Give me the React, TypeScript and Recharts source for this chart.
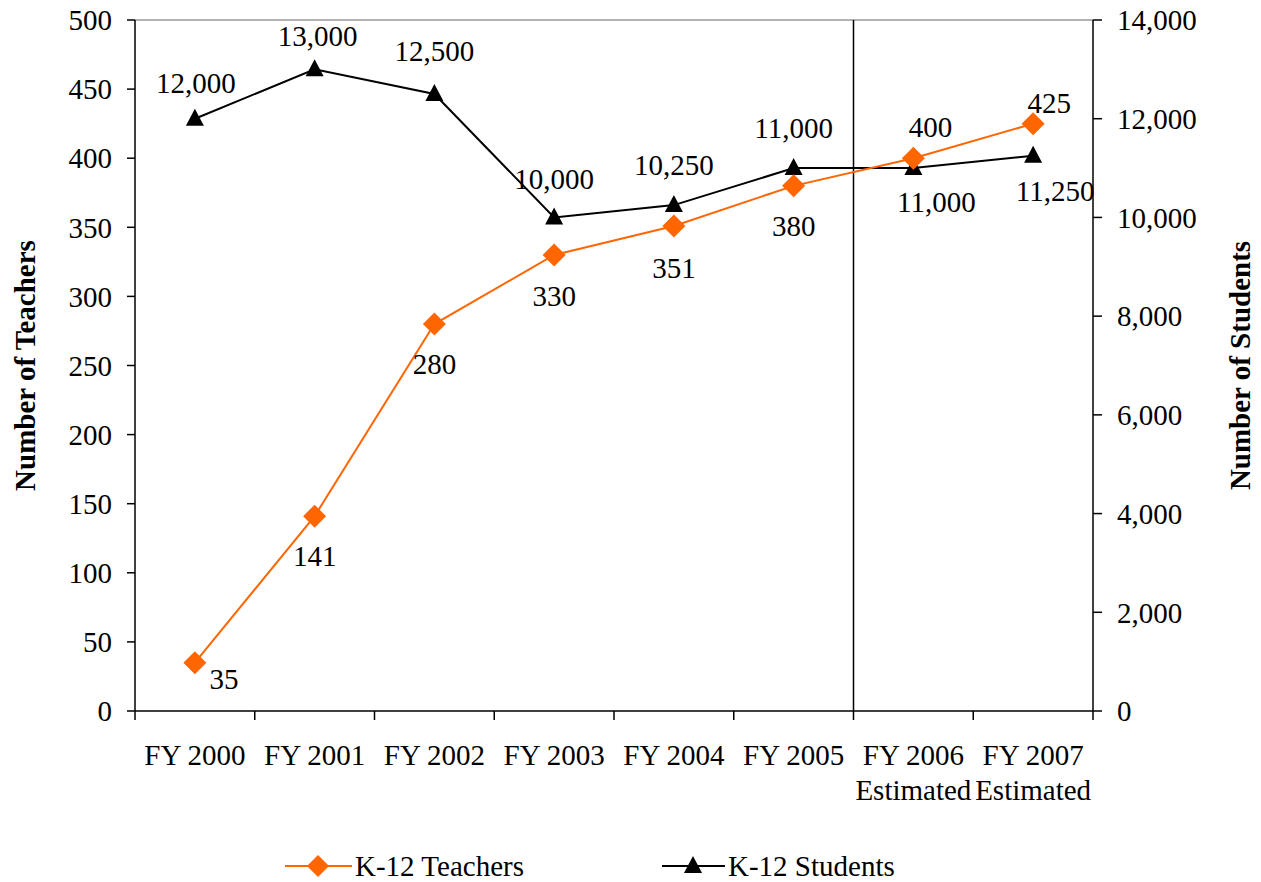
import React from 'react';
import { LineChart, Line, XAxis, YAxis, ReferenceLine, Legend } from 'recharts';

const years = ['FY 2000', 'FY 2001', 'FY 2002', 'FY 2003', 'FY 2004', 'FY 2005', 'FY 2006', 'FY 2007'];
const subLabels = ['', '', '', '', '', '', 'Estimated', 'Estimated'];
const teachers = [35, 141, 280, 330, 351, 380, 400, 425];
const students = [12000, 13000, 12500, 10000, 10250, 11000, 11000, 11250];
const teacherTicks = [0, 50, 100, 150, 200, 250, 300, 350, 400, 450, 500];
const studentTicks = [0, 2000, 4000, 6000, 8000, 10000, 12000, 14000];

// where each data label sits relative to its point
const teacherLabelPos: [number, number][] = [
  [29, 16], [0, 40], [0, 40], [0, 41], [0, 42], [0, 40], [17, -31], [16, -21],
];
const studentLabelPos: [number, number][] = [
  [1, -36], [3, -33], [0, -43], [0, -38], [0, -40], [0, -40], [23, 34], [22, 35],
];

const data = years.map((year, i) => ({
  year,
  x: i + 0.5,
  teachers: teachers[i],
  students: students[i],
}));

const FONT = '"Liberation Serif", "Times New Roman", serif';
const FS = 29;
const ORANGE = '#FF6600';
const fmt = (v: number) => v.toLocaleString('en-US');

const Diamond = ({ cx, cy, r = 11.5, fill = ORANGE }: any) => (
  <polygon points={`${cx},${cy - r} ${cx + r},${cy} ${cx},${cy + r} ${cx - r},${cy}`} fill={fill} />
);

const Triangle = ({ cx, cy, fill = '#000' }: any) => (
  <polygon points={`${cx},${cy - 10} ${cx + 9},${cy + 7} ${cx - 9},${cy + 7}`} fill={fill} />
);

const makeLabel = (pos: [number, number][], format: (v: number) => string) => (props: any) => {
  const { x, y, value, index } = props;
  const [dx, dy] = pos[index] || [0, 0];
  return (
    <text
      key={`lbl-${index}`}
      x={x + dx}
      y={y + dy}
      textAnchor="middle"
      dominantBaseline="central"
      fontFamily={FONT}
      fontSize={FS}
      fill="#000"
    >
      {format(value)}
    </text>
  );
};

const YearTick = ({ x, y, payload }: any) => {
  const i = Math.round(payload.value - 0.5);
  return (
    <g>
      <text x={x} y={y} dy={42} textAnchor="middle" fontFamily={FONT} fontSize={FS} fill="#000">
        {years[i]}
      </text>
      {subLabels[i] && (
        <text x={x} y={y} dy={77} textAnchor="middle" fontFamily={FONT} fontSize={FS} fill="#000">
          {subLabels[i]}
        </text>
      )}
    </g>
  );
};

const LegendContent = () => (
  <svg width={1261} height={50}>
    <line x1={285} x2={352} y1={34} y2={34} stroke={ORANGE} strokeWidth={2} />
    <Diamond cx={318} cy={34} r={11} />
    <text x={355} y={34} dominantBaseline="central" fontFamily={FONT} fontSize={FS} fill="#000">
      K-12 Teachers
    </text>
    <line x1={662} x2={725} y1={34} y2={34} stroke="#000" strokeWidth={2} />
    <Triangle cx={693} cy={34} />
    <text x={728} y={34} dominantBaseline="central" fontFamily={FONT} fontSize={FS} fill="#000">
      K-12 Students
    </text>
  </svg>
);

const tickStyle = { fontFamily: FONT, fontSize: FS, fill: '#000' };
const titleStyle = { textAnchor: 'middle', fontFamily: FONT, fontSize: FS, fontWeight: 'bold', fill: '#000' };

export default function App() {
  return (
    <div style={{ position: 'absolute', left: 0, top: 0, width: 1261, height: 882, background: '#fff' }}>
      <LineChart width={1261} height={882} data={data} margin={{ top: 20, right: 0, bottom: 0, left: 0 }}>
        <XAxis
          xAxisId="a"
          dataKey="x"
          type="number"
          domain={[0, 8]}
          ticks={[0, 1, 2, 3, 4, 5, 6, 7, 8]}
          tickFormatter={() => ''}
          tickSize={9}
          height={12}
          stroke="#000"
          strokeWidth={1.5}
        />
        <XAxis
          xAxisId="b"
          dataKey="x"
          type="number"
          domain={[0, 8]}
          ticks={[0.5, 1.5, 2.5, 3.5, 4.5, 5.5, 6.5, 7.5]}
          axisLine={false}
          tickLine={false}
          tickSize={0}
          tickMargin={0}
          height={109}
          tick={<YearTick />}
          interval={0}
        />
        <YAxis
          yAxisId="t"
          domain={[0, 500]}
          ticks={teacherTicks}
          width={135}
          tickSize={8}
          tickMargin={15}
          tick={tickStyle}
          stroke="#000"
          strokeWidth={1.5}
          interval={0}
          label={{
            value: 'Number of Teachers',
            angle: -90,
            position: 'insideLeft',
            dx: 20,
            style: titleStyle,
          }}
        />
        <YAxis
          yAxisId="s"
          orientation="right"
          domain={[0, 14000]}
          ticks={studentTicks}
          width={168}
          tickSize={9}
          tickMargin={15}
          tick={tickStyle}
          tickFormatter={fmt}
          stroke="#000"
          strokeWidth={1.5}
          interval={0}
          label={{
            value: 'Number of Students',
            angle: -90,
            position: 'insideRight',
            dx: -16,
            style: titleStyle,
          }}
        />
        <ReferenceLine xAxisId="a" yAxisId="t" y={500} stroke="#999" strokeWidth={1.5} />
        <ReferenceLine xAxisId="a" yAxisId="t" x={6} stroke="#000" strokeWidth={1.5} />
        <Legend verticalAlign="bottom" height={50} content={<LegendContent />} wrapperStyle={{ left: 0, width: 1261 }} />
        <Line
          xAxisId="a"
          yAxisId="s"
          dataKey="students"
          stroke="#000"
          strokeWidth={2}
          isAnimationActive={false}
          dot={(p: any) => <Triangle key={`tri-${p.index}`} cx={p.cx} cy={p.cy} />}
          activeDot={false}
          label={makeLabel(studentLabelPos, fmt)}
        />
        <Line
          xAxisId="a"
          yAxisId="t"
          dataKey="teachers"
          stroke={ORANGE}
          strokeWidth={2}
          isAnimationActive={false}
          dot={(p: any) => <Diamond key={`dia-${p.index}`} cx={p.cx} cy={p.cy} />}
          activeDot={false}
          label={makeLabel(teacherLabelPos, (v) => String(v))}
        />
      </LineChart>
    </div>
  );
}
